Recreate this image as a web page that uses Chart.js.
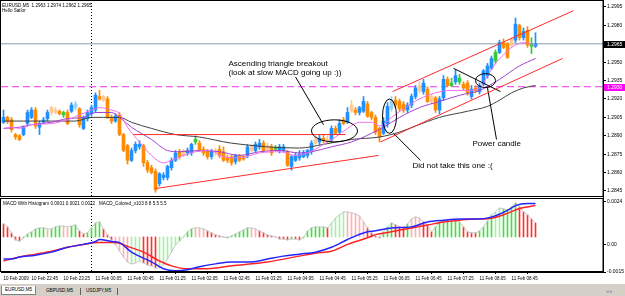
<!DOCTYPE html>
<html>
<head>
<meta charset="utf-8">
<title>EURUSD,M5</title>
<script src="https://cdn.jsdelivr.net/npm/chart.js@4.4.1/dist/chart.umd.min.js"></script>
<style>
  html, body { margin: 0; padding: 0; background: #fff; }
  #wrap { position: relative; width: 625px; height: 296px; overflow: hidden;
          font-family: "Liberation Sans", Arial, sans-serif; }
  canvas { position: absolute; left: 0; }
  #main { top: 0; }
  #macd { top: 198px; }
  .txt { position: absolute; font-size: 4.6px; line-height: 5px; white-space: pre; color: #000; }
  #tabs { position: absolute; left: 0; top: 284px; width: 625px; height: 12px; background: #d4d0c8; }
  .tab { position: absolute; top: 3px; height: 8px; font-size: 4.6px; line-height: 8px; padding: 0 3px; color: #000; }
  .tab.on { background: #fff; border: 1px solid #808080; border-top: none; top: 2px; }
  .sep { position: absolute; top: 4px; width: 1px; height: 7px; background: #606060; }
  .arr { position: absolute; top: 3px; font-size: 5px; line-height: 8px; color: #909090; }
</style>
</head>
<body>
<div id="wrap">
  <canvas id="main" width="625" height="198"></canvas>
  <canvas id="macd" width="625" height="85"></canvas>
  <div class="txt" style="left:2px;top:3px">EURUSD,M5  1.2963 1.2974 1.2962 1.2965</div>
  <div class="txt" style="left:2px;top:8px">Hello Sailor</div>
  <div class="txt" style="left:3px;top:201px">MACD With Histogram 0.0001 0.0021 0.0022   MACD_Colored_v103 8 8 5.5 5.5</div>
  <div id="tabs">
    <div class="tab on" style="left:1px">EURUSD,M5</div>
    <div class="tab" style="left:43px">GBPUSD,M5</div>
    <div class="sep" style="left:80px"></div>
    <div class="tab" style="left:83px">USDJPY,M5</div>
    <div class="sep" style="left:117px"></div>
    <div class="arr" style="left:606px">&#9666; &#9656;</div>
  </div>
</div>
<script>
// EURUSD M5 bars, 10 Feb 2009 22:10 onwards (one entry per bar)
const opens = [1.2901,1.2905,1.2903,1.2891,1.2890,1.2891,1.2900,1.2905,1.2911,1.2897,
  1.2901,1.2904,1.2913,1.2911,1.2910,1.2907,1.2909,1.2910,1.2913,1.2912,
  1.2896,1.2904,1.2908,1.2911,1.2922,1.2922,1.2920,1.2905,1.2902,1.2907,
  1.2891,1.2882,1.2870,1.2878,1.2881,1.2882,1.2868,1.2864,1.2861,1.2851,
  1.2856,1.2856,1.2864,1.2870,1.2877,1.2878,1.2876,1.2876,1.2885,1.2884,
  1.2879,1.2878,1.2873,1.2878,1.2879,1.2877,1.2872,1.2873,1.2869,1.2874,
  1.2873,1.2874,1.2881,1.2878,1.2881,1.2884,1.2882,1.2881,1.2879,1.2878,
  1.2878,1.2877,1.2865,1.2870,1.2872,1.2873,1.2874,1.2877,1.2887,1.2885,
  1.2888,1.2887,1.2887,1.2896,1.2893,1.2903,1.2901,1.2915,1.2911,1.2909,
  1.2910,1.2916,1.2909,1.2905,1.2896,1.2892,1.2900,1.2912,1.2919,1.2918,
  1.2916,1.2911,1.2915,1.2922,1.2931,1.2926,1.2928,1.2922,1.2921,1.2911,
  1.2921,1.2936,1.2931,1.2934,1.2934,1.2932,1.2933,1.2922,1.2929,1.2926,
  1.2932,1.2939,1.2945,1.2951,1.2958,1.2966,1.2965,1.2969,1.2968,1.2980,
  1.2970,1.2976,1.2963,1.2963];
const highs = [1.2911,1.2906,1.2905,1.2892,1.2891,1.2898,1.2911,1.2913,1.2913,1.2902,
  1.2905,1.2911,1.2914,1.2913,1.2911,1.2910,1.2911,1.2917,1.2918,1.2913,
  1.2906,1.2911,1.2915,1.2925,1.2927,1.2923,1.2922,1.2907,1.2908,1.2909,
  1.2892,1.2883,1.2880,1.2885,1.2886,1.2883,1.2870,1.2866,1.2863,1.2860,
  1.2860,1.2866,1.2872,1.2878,1.2879,1.2879,1.2880,1.2884,1.2890,1.2886,
  1.2881,1.2879,1.2879,1.2880,1.2882,1.2881,1.2874,1.2874,1.2875,1.2875,
  1.2874,1.2883,1.2883,1.2885,1.2887,1.2886,1.2884,1.2883,1.2882,1.2883,
  1.2883,1.2878,1.2874,1.2876,1.2878,1.2878,1.2879,1.2886,1.2890,1.2891,
  1.2891,1.2890,1.2898,1.2898,1.2903,1.2905,1.2913,1.2919,1.2913,1.2914,
  1.2922,1.2918,1.2910,1.2907,1.2897,1.2905,1.2917,1.2922,1.2922,1.2920,
  1.2918,1.2917,1.2924,1.2931,1.2934,1.2936,1.2930,1.2924,1.2922,1.2922,
  1.2939,1.2938,1.2937,1.2944,1.2940,1.2934,1.2935,1.2931,1.2931,1.2933,
  1.2944,1.2949,1.2955,1.2960,1.2968,1.2969,1.2966,1.2970,1.2986,1.2981,
  1.2978,1.2979,1.2970,1.2974];
const lows = [1.2900,1.2900,1.2893,1.2887,1.2886,1.2890,1.2898,1.2904,1.2896,1.2891,
  1.2900,1.2902,1.2907,1.2908,1.2907,1.2905,1.2899,1.2909,1.2911,1.2897,
  1.2895,1.2902,1.2906,1.2909,1.2919,1.2918,1.2904,1.2900,1.2901,1.2890,
  1.2877,1.2867,1.2869,1.2876,1.2879,1.2865,1.2860,1.2859,1.2844,1.2849,
  1.2854,1.2854,1.2862,1.2869,1.2871,1.2873,1.2874,1.2874,1.2883,1.2877,
  1.2874,1.2871,1.2871,1.2874,1.2872,1.2869,1.2868,1.2866,1.2867,1.2869,
  1.2870,1.2872,1.2877,1.2877,1.2879,1.2877,1.2878,1.2874,1.2878,1.2876,
  1.2877,1.2865,1.2862,1.2869,1.2870,1.2872,1.2872,1.2875,1.2883,1.2883,
  1.2884,1.2884,1.2885,1.2891,1.2891,1.2899,1.2900,1.2909,1.2907,1.2907,
  1.2909,1.2905,1.2903,1.2891,1.2885,1.2891,1.2897,1.2910,1.2913,1.2910,
  1.2909,1.2909,1.2913,1.2920,1.2925,1.2924,1.2917,1.2916,1.2909,1.2908,
  1.2919,1.2930,1.2930,1.2932,1.2932,1.2927,1.2923,1.2920,1.2925,1.2924,
  1.2931,1.2937,1.2944,1.2949,1.2957,1.2961,1.2953,1.2962,1.2966,1.2968,
  1.2968,1.2962,1.2957,1.2962];
const closes = [1.2905,1.2902,1.2895,1.2889,1.2887,1.2897,1.2909,1.2911,1.2898,1.2900,
  1.2903,1.2909,1.2909,1.2909,1.2908,1.2909,1.2900,1.2915,1.2916,1.2899,
  1.2905,1.2909,1.2913,1.2923,1.2920,1.2919,1.2905,1.2902,1.2906,1.2891,
  1.2878,1.2870,1.2878,1.2883,1.2883,1.2868,1.2862,1.2860,1.2846,1.2859,
  1.2858,1.2865,1.2870,1.2876,1.2873,1.2874,1.2878,1.2883,1.2887,1.2878,
  1.2876,1.2873,1.2878,1.2876,1.2874,1.2870,1.2870,1.2868,1.2874,1.2870,
  1.2871,1.2881,1.2878,1.2883,1.2884,1.2878,1.2879,1.2876,1.2880,1.2881,
  1.2881,1.2866,1.2873,1.2874,1.2875,1.2876,1.2878,1.2884,1.2884,1.2888,
  1.2886,1.2886,1.2896,1.2892,1.2900,1.2900,1.2909,1.2910,1.2909,1.2913,
  1.2918,1.2906,1.2905,1.2893,1.2889,1.2902,1.2914,1.2919,1.2915,1.2912,
  1.2911,1.2915,1.2922,1.2929,1.2927,1.2933,1.2918,1.2918,1.2911,1.2920,
  1.2936,1.2931,1.2933,1.2939,1.2937,1.2929,1.2925,1.2928,1.2927,1.2931,
  1.2943,1.2947,1.2953,1.2958,1.2966,1.2962,1.2954,1.2964,1.2981,1.2970,
  1.2975,1.2964,1.2965,1.2965];
// candle state from the template: 0 plain, 1 faded, 2 green
const candleState = [0,0,0,0,0,0,0,0,0,0, 0,0,1,1,0,2,0,0,1,0, 0,0,0,0,0,1,0,0,0,0,
  0,0,0,0,0,0,0,0,0,0, 0,0,0,0,0,1,0,0,2,0, 0,0,0,1,0,0,0,0,0,0,
  0,0,1,0,0,0,1,0,2,0, 0,0,0,0,0,0,0,0,1,0, 0,1,0,0,0,0,0,1,0,0,
  0,0,0,0,0,0,0,1,0,0, 0,0,0,0,1,0,0,1,0,0, 0,0,2,0,2,0,0,0,0,0,
  0,0,0,2,0,0,0,1,0,0, 0,0,2,0];

// moving averages, read at a few bars each
const fastMaAt = [0,2,4,7,12,16,19,22,24,27,29,31,34,37,40,42,45,48,52,54,59,64,69,73,76,79,83,86,89,92,94,97,100,104,108,112,116,119,121,123,125,127,130,133];
const fastMa = [1.2896,1.2897,1.2896,1.2899,1.2900,1.2903,1.2907,1.2911,1.2913,1.2911,
  1.2908,1.2897,1.2885,1.2874,1.2868,1.2870,1.2874,1.2877,1.2878,1.2874,
  1.2872,1.2876,1.2877,1.2874,1.2876,1.2881,1.2889,1.2896,1.2901,1.2901,
  1.2898,1.2905,1.2912,1.2920,1.2925,1.2927,1.2927,1.2929,1.2939,1.2949,
  1.2956,1.2962,1.2966,1.2964];
const midMaAt = [0,4,7,12,16,20,23,27,29,32,37,41,44,49,54,59,64,69,74,77,82,87,92,95,99,104,109,114,119,124,129,133];
const midMa = [1.2896,1.2897,1.2899,1.2901,1.2904,1.2905,1.2909,1.2909,1.2905,1.2897,
  1.2887,1.2878,1.2877,1.2878,1.2877,1.2874,1.2877,1.2878,1.2876,1.2877,
  1.2881,1.2885,1.2892,1.2897,1.2905,1.2913,1.2918,1.2923,1.2927,1.2936,
  1.2947,1.2953];
const slowMaAt = [0,5,12,18,22,25,29,32,37,43,49,57,74,80,87,94,99,103,109,116,121,124,127,130,133];
const slowMa = [1.2902,1.2902,1.2902,1.2902,1.2905,1.2905,1.2905,1.2901,1.2896,1.2891,
  1.2889,1.2884,1.2880,1.2883,1.2887,1.2889,1.2893,1.2898,1.2905,1.2910,
  1.2914,1.2919,1.2925,1.2929,1.2931];

// MACD lines
const macdAt = [0,2,4,8,12,16,20,23,24,27,29,32,37,40,43,46,49,53,57,62,66,70,74,78,82,86,91,93,97,102,106,110,114,118,122,126,128,131,133];
const macdLine = [-0.00078,-0.00078,-0.00067,-0.00057,-0.00040,-0.00013,0.00003,0.00019,0.00030,0.00019,
  0.00013,-0.00040,-0.00094,-0.00132,-0.00143,-0.00137,-0.00121,-0.00105,-0.00094,-0.00094,
  -0.00078,-0.00062,-0.00051,-0.00040,-0.00013,0.00030,0.00073,0.00078,0.00094,0.00100,
  0.00127,0.00137,0.00143,0.00143,0.00154,0.00191,0.00218,0.00229,0.00229];
const signalAt = [0,4,8,12,16,20,24,28,31,35,39,42,46,51,57,66,74,78,82,86,91,93,97,102,106,110,114,118,122,126,129,133];
const signalLine = [-0.00089,-0.00067,-0.00051,-0.00035,-0.00013,0.00003,0.00013,0.00013,-0.00008,-0.00040,
  -0.00089,-0.00116,-0.00132,-0.00132,-0.00116,-0.00094,-0.00062,-0.00046,-0.00035,0.00003,
  0.00040,0.00057,0.00073,0.00094,0.00110,0.00127,0.00137,0.00143,0.00148,0.00175,
  0.00202,0.00218];

// MACD_Colored histogram, one value per bar; state 0 up, 1 up faded, 2 down, 3 down faded
const histValues = [0.00070,0.00054,0.00022,-0.00016,-0.00022,-0.00005,0.00016,0.00027,0.00043,0.00049,
  0.00049,0.00043,0.00043,0.00054,0.00059,0.00059,0.00054,0.00059,0.00065,0.00032,
  0.00016,0.00022,0.00049,0.00075,0.00081,0.00043,0.00011,-0.00016,-0.00043,-0.00075,
  -0.00108,-0.00135,-0.00146,-0.00140,-0.00129,-0.00140,-0.00151,-0.00156,-0.00167,-0.00167,
  -0.00151,-0.00119,-0.00081,-0.00043,-0.00022,0,0.00027,0.00043,0.00049,0.00049,
  0.00043,0.00032,0.00022,0.00011,0.00005,0,-0.00005,0.00005,0.00016,0.00027,
  0.00038,0.00049,0.00049,0.00043,0.00032,0.00022,0.00011,0.00005,0,-0.00011,
  -0.00011,-0.00016,-0.00011,-0.00011,-0.00016,-0.00005,0.00032,0.00049,0.00054,0.00054,
  0.00054,0.00049,0.00075,0.00102,0.00119,0.00135,0.00135,0.00129,0.00124,0.00113,
  0.00081,0.00049,0.00022,0.00005,-0.00005,0.00027,0.00054,0.00075,0.00065,0.00054,
  0.00049,0.00070,0.00097,0.00108,0.00102,0.00081,0.00065,0.00027,0.00054,0.00081,
  0.00086,0.00092,0.00092,0.00086,0.00081,0.00054,0.00027,0.00022,0.00022,0.00032,
  0.00054,0.00086,0.00119,0.00135,0.00156,0.00151,0.00146,0.00162,0.00183,0.00162,
  0.00135,0.00119,0.00097,0.00075];
const histState = [2,2,2,2,2,0,0,0,0,0, 0,3,0,0,0,3,3,0,0,2, 2,0,0,0,0,2,2,2,3,3,
  3,3,1,1,1,2,2,2,2,1, 1,1,1,1,0,0,0,0,3,3, 3,2,2,2,2,2,0,0,0,0,
  0,0,3,3,2,2,2,2,2,2, 2,2,0,2,2,0,0,0,0,0, 0,2,1,1,1,1,3,3,3,3,
  3,2,2,2,2,0,0,0,2,2, 2,0,3,3,3,2,2,2,0,0, 0,0,0,0,0,2,2,2,2,0,
  0,0,0,1,1,0,0,0,0,2, 2,2,2,2];

// axes
const priceTicks = [1.2845,1.2860,1.2875,1.2890,1.2905,1.2920,1.2935,1.2950,1.2965,1.2980,1.2995];
const macdTicks = [-0.0015, 0, 0.0024];
const timeTicks = [0,7,15,23,31,39,47,55,63,71,79,87,95,103,111,119,127];
const timeLabels = ['10 Feb 2009','10 Feb 22:45','10 Feb 23:25','11 Feb 00:05','11 Feb 00:45','11 Feb 01:25',
  '11 Feb 02:05','11 Feb 02:45','11 Feb 03:25','11 Feb 04:05','11 Feb 04:45','11 Feb 05:25',
  '11 Feb 06:05','11 Feb 06:45','11 Feb 07:25','11 Feb 08:05','11 Feb 08:45'];
const daySeparator = 22;   // first bar of 11 Feb
const bidPrice = 1.2965;
const alertPrice = 1.2930;

// drawn objects, in bar / price coordinates
const redLines = [
  [[32.5, 1.2891], [85.5, 1.2891]],
  [[38, 1.2847], [93.75, 1.2874]],
  [[94.25, 1.2885], [139.75, 1.2953]],
  [[97.25, 1.2926], [142.5, 1.2992]]
];
const blackLines = [
  [[112.5, 1.2945], [124.25, 1.2926]],
  [[73, 1.2938], [80, 1.2899]],
  [[97.5, 1.2892], [104.25, 1.2870]],
  [[121, 1.2929], [123.25, 1.2887]]
];
const ellipses = [
  { x: 82.75, y: 1.2894, rx: 5.75, ry: 0.0009 },
  { x: 96.5, y: 1.2906, rx: 1.75, ry: 0.0014 },
  { x: 120.5, y: 1.2935, rx: 2.5, ry: 0.00057 }
];
const notes = [
  { x: 56.25, y: 1.29465, text: 'Ascending triangle breakout' },
  { x: 56.25, y: 1.29392, text: '(look at slow MACD going up :))' },
  { x: 102.25, y: 1.28638, text: 'Did not take this one :(' },
  { x: 117.25, y: 1.28817, text: 'Power candle' }
];

const X_MIN = -0.625, X_MAX = 149.875;
const FONT = '"Liberation Sans", Arial, sans-serif';
Chart.defaults.font.family = FONT;

function candleColor(i) {
  const up = closes[i] >= opens[i];
  if (candleState[i] === 2) return '#33cc33';
  if (candleState[i] === 1) return up ? '#9ccfff' : '#ffc994';
  return up ? '#1e90ff' : '#ff8c00';
}
const histColors = ['#44dd44', '#a8eea8', '#ff3030', '#ffb0b0'];

const pts = (at, vals) => at.map((x, k) => ({ x: x, y: vals[k] }));
const segment = (s) => s.map(p => ({ x: p[0], y: p[1] }));

function lineSet(data, color, order, extra) {
  return Object.assign({
    type: 'line', data: data, borderColor: color, borderWidth: 1,
    pointRadius: 0, fill: false, order: order
  }, extra || {});
}

function frameAndSeparator(chart) {
  const { ctx, chartArea: a } = chart;
  const sx = Math.round(chart.scales.x.getPixelForValue(daySeparator)) - 0.5;
  ctx.save();
  ctx.strokeStyle = '#000';
  ctx.lineWidth = 1;
  ctx.setLineDash([1, 2]);
  ctx.beginPath(); ctx.moveTo(sx, a.top); ctx.lineTo(sx, a.bottom); ctx.stroke();
  ctx.restore();
}

function drawFrame(chart) {
  const { ctx, chartArea: a } = chart;
  ctx.save();
  ctx.strokeStyle = '#000';
  ctx.lineWidth = 1;
  ctx.strokeRect(0.5, a.top + 0.5, a.right - 0.5, a.bottom - a.top - 1);
  ctx.restore();
}

const mainDecor = {
  id: 'mainDecor',
  beforeDatasetsDraw(chart) { frameAndSeparator(chart); },
  afterDatasetsDraw(chart) {
    const { ctx, scales: { x, y } } = chart;
    ctx.save();
    ctx.strokeStyle = '#000';
    ctx.lineWidth = 1;
    ellipses.forEach(e => {
      const cx = x.getPixelForValue(e.x), cy = y.getPixelForValue(e.y);
      const rx = x.getPixelForValue(e.x + e.rx) - cx;
      const ry = cy - y.getPixelForValue(e.y + e.ry);
      ctx.beginPath();
      ctx.ellipse(cx, cy, rx, ry, 0, 0, Math.PI * 2);
      ctx.stroke();
    });
    ctx.fillStyle = '#000';
    ctx.font = '8px ' + FONT;
    ctx.textBaseline = 'alphabetic';
    notes.forEach(n => ctx.fillText(n.text, x.getPixelForValue(n.x), y.getPixelForValue(n.y)));
    ctx.restore();
  },
  afterDraw(chart) {
    const { ctx, chartArea: a, scales: { y } } = chart;
    drawFrame(chart);
    ctx.save();
    ctx.font = '5px ' + FONT;
    ctx.textBaseline = 'middle';
    [[bidPrice, '#000000'], [alertPrice, '#ff00ff']].forEach(b => {
      const py = Math.round(y.getPixelForValue(b[0]));
      ctx.fillStyle = b[1];
      ctx.fillRect(a.right + 1, py - 3, 625 - a.right - 1, 7);
      ctx.fillStyle = '#fff';
      ctx.fillText(b[0].toFixed(4), a.right + 4, py + 0.5);
    });
    ctx.restore();
  }
};

const macdDecor = {
  id: 'macdDecor',
  beforeDatasetsDraw(chart) { frameAndSeparator(chart); },
  afterDraw(chart) { drawFrame(chart); }
};

const bars = opens.map((o, i) => i);

new Chart(document.getElementById('main'), {
  type: 'bar',
  data: {
    datasets: [
      ...redLines.map(s => lineSet(segment(s), '#ff2a2a', 0)),
      ...blackLines.map(s => lineSet(segment(s), '#000000', 0)),
      lineSet(pts(fastMaAt, fastMa), '#f070f0', 1, { cubicInterpolationMode: 'monotone' }),
      lineSet(pts(midMaAt, midMa), '#a040d0', 1, { cubicInterpolationMode: 'monotone' }),
      lineSet(pts(slowMaAt, slowMa), '#404040', 1, { cubicInterpolationMode: 'monotone' }),
      {
        type: 'bar', order: 3, grouped: false, barThickness: 3, minBarLength: 1,
        data: bars.map(i => ({ x: i, y: [opens[i], closes[i]] })),
        backgroundColor: c => candleColor(c.dataIndex), borderWidth: 0
      },
      {
        type: 'bar', order: 4, grouped: false, barThickness: 1,
        data: bars.map(i => ({ x: i, y: [lows[i], highs[i]] })),
        backgroundColor: c => candleColor(c.dataIndex), borderWidth: 0
      },
      lineSet([{ x: X_MIN, y: alertPrice }, { x: X_MAX, y: alertPrice }], '#ee33ee', 5, { borderDash: [7, 4] }),
      lineSet([{ x: X_MIN, y: bidPrice }, { x: X_MAX, y: bidPrice }], '#8c9cab', 6)
    ]
  },
  options: {
    responsive: false, animation: false, devicePixelRatio: 1,
    layout: { padding: { left: 1, right: 0, top: 0, bottom: 1 } },
    plugins: { legend: { display: false }, tooltip: { enabled: false } },
    scales: {
      x: { type: 'linear', min: X_MIN, max: X_MAX, offset: false, display: false },
      y: {
        position: 'right', min: 1.28401, max: 1.30007, beginAtZero: false,
        afterFit: s => { s.width = 22; s.paddingTop = 0; s.paddingBottom = 0; },
        afterBuildTicks: s => { s.ticks = priceTicks.map(v => ({ value: v })); },
        ticks: { callback: v => v.toFixed(4), font: { size: 5 }, color: '#000', padding: 1, autoSkip: false },
        grid: { drawOnChartArea: false, tickLength: 3, color: '#000' },
        border: { color: '#000' }
      }
    }
  },
  plugins: [mainDecor]
});

new Chart(document.getElementById('macd'), {
  type: 'bar',
  data: {
    datasets: [
      lineSet(pts(macdAt, macdLine), '#2424ff', 0, { borderWidth: 1.5, cubicInterpolationMode: 'monotone' }),
      lineSet(pts(signalAt, signalLine), '#ff2424', 1, { borderWidth: 1.5, cubicInterpolationMode: 'monotone' }),
      lineSet(bars.map(i => ({ x: i, y: histValues[i] })), '#c8c8c8', 2, { yAxisID: 'yh' }),
      {
        type: 'bar', order: 3, grouped: false, barThickness: 1, yAxisID: 'yh',
        data: bars.map(i => ({ x: i, y: histValues[i] })),
        backgroundColor: c => histColors[histState[c.dataIndex]], borderWidth: 0
      }
    ]
  },
  options: {
    responsive: false, animation: false, devicePixelRatio: 1,
    layout: { padding: { left: 1, right: 0, top: 0, bottom: 0 } },
    plugins: { legend: { display: false }, tooltip: { enabled: false } },
    scales: {
      x: {
        type: 'linear', min: X_MIN, max: X_MAX, offset: false, position: 'bottom',
        afterFit: s => { s.height = 11; s.paddingLeft = 0; s.paddingRight = 0; },
        afterBuildTicks: s => { s.ticks = timeTicks.map(v => ({ value: v })); },
        ticks: {
          callback: (v, k) => timeLabels[k], font: { size: 4.5 }, color: '#000',
          align: 'start', padding: 2, autoSkip: false, maxRotation: 0, minRotation: 0
        },
        grid: { drawOnChartArea: false, tickLength: 2, color: '#000' },
        border: { color: '#000' }
      },
      y: {
        position: 'right', min: -0.0015, max: 0.0026, beginAtZero: false,
        afterFit: s => { s.width = 22; s.paddingTop = 0; s.paddingBottom = 0; },
        afterBuildTicks: s => { s.ticks = macdTicks.map(v => ({ value: v })); },
        ticks: { callback: v => (v === 0 ? '0.00' : v.toFixed(4)), font: { size: 5 }, color: '#000', padding: 1, autoSkip: false },
        grid: { drawOnChartArea: false, tickLength: 3, color: '#000' },
        border: { color: '#000' }
      },
      yh: { display: false, min: -0.00189, max: 0.0021, beginAtZero: false }
    }
  },
  plugins: [macdDecor]
});
</script>
</body>
</html>
